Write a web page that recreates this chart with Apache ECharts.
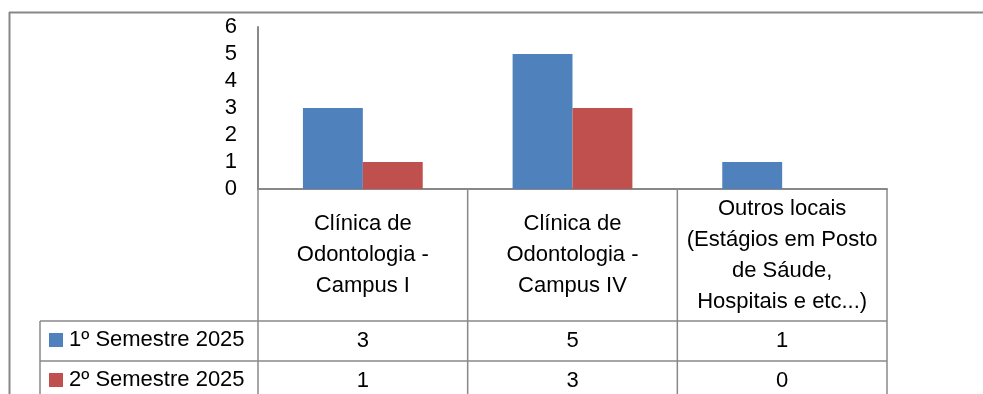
<!DOCTYPE html>
<html>
<head>
<meta charset="utf-8">
<script src="https://cdn.jsdelivr.net/npm/echarts@6/dist/echarts.min.js"></script>
<style>
  html, body { margin: 0; padding: 0; background: #fff; }
  #chart { width: 983px; height: 394px; }
</style>
</head>
<body>
<div id="chart"></div>
<script>
// Locais de estágio por semestre
const categories = [
  'Clínica de\nOdontologia -\nCampus I',
  'Clínica de\nOdontologia -\nCampus IV',
  'Outros locais\n(Estágios em Posto\nde Sáude,\nHospitais e etc...)'
];
const seriesNames = ['1º Semestre 2025', '2º Semestre 2025'];
const semestre1 = [3, 5, 1];
const semestre2 = [1, 3, 0];
const yTicks = [0, 1, 2, 3, 4, 5, 6];

const colors = ['#4F81BD', '#C0504D'];
const lineColor = '#888888';
const fontFamily = '"Liberation Sans", Arial, sans-serif';
const fontSize = 22;

// grid geometry (plot area + data table underneath)
const W = 983, H = 394;
const gridLeft = 258, gridRight = 96, gridTop = 27, gridBottom = 205;
const axisY = H - gridBottom;          // baseline of the plot
const plotRight = W - gridRight;
const labelRowBottom = 321;            // end of the category-name row
const rowHeight = 40;                  // height of each data row
const tableLeft = 40;

const chart = echarts.init(document.getElementById('chart'), null, { renderer: 'canvas' });

function valueAxis(values, margin) {
  return {
    type: 'category',
    gridIndex: 0,
    position: 'bottom',
    data: values.map(String),
    axisLine: { show: false },
    axisTick: { show: false },
    axisLabel: {
      margin: margin,
      verticalAlign: 'middle',
      color: '#000',
      fontFamily: fontFamily,
      fontSize: fontSize
    }
  };
}

// table rules
const cellW = (plotRight - gridLeft) / categories.length;
const lines = [];
function hline(x1, x2, y, w) {
  lines.push({ type: 'line', silent: true,
    shape: { x1: x1, y1: y, x2: x2, y2: y },
    style: { stroke: lineColor, lineWidth: w || 1.5 } });
}
function vline(x, y1, y2, w) {
  lines.push({ type: 'line', silent: true,
    shape: { x1: x, y1: y1, x2: x, y2: y2 },
    style: { stroke: lineColor, lineWidth: w || 1.5 } });
}
// outer chart frame
hline(9, W, 12.5, 2);
vline(9.5, 12, H, 2);
// table grid
hline(tableLeft, plotRight, labelRowBottom);
hline(tableLeft, plotRight, labelRowBottom + rowHeight);
vline(tableLeft, labelRowBottom, H);
vline(gridLeft, axisY, H);
for (let i = 1; i <= categories.length; i++) {
  vline(gridLeft + cellW * i, axisY, H);
}

const option = {
  animation: false,
  backgroundColor: '#fff',
  textStyle: { fontFamily: fontFamily },
  grid: { left: gridLeft, right: gridRight, top: gridTop, bottom: gridBottom, containLabel: false },
  legend: {
    orient: 'vertical',
    left: 49,
    top: 328,
    padding: 0,
    itemWidth: 14,
    itemHeight: 14,
    itemGap: 16,
    icon: 'rect',
    data: seriesNames,
    textStyle: { color: '#000', fontFamily: fontFamily, fontSize: fontSize, lineHeight: 24, padding: [0, 0, 0, 1] }
  },
  xAxis: [
    {
      type: 'category',
      data: categories,
      axisLine: { show: true, lineStyle: { color: lineColor, width: 2 } },
      axisTick: { show: false },
      axisLabel: {
        interval: 0,
        margin: 66,
        verticalAlign: 'middle',
        align: 'center',
        lineHeight: 31,
        color: '#000',
        fontFamily: fontFamily,
        fontSize: fontSize
      }
    },
    valueAxis(semestre1, labelRowBottom + rowHeight / 2 - axisY),
    valueAxis(semestre2, labelRowBottom + rowHeight * 1.5 - axisY)
  ],
  yAxis: {
    type: 'value',
    min: yTicks[0],
    max: yTicks[yTicks.length - 1],
    interval: 1,
    axisLine: { show: true, lineStyle: { color: lineColor, width: 2 } },
    axisTick: { show: false },
    splitLine: { show: false },
    axisLabel: {
      margin: 21,
      color: '#000',
      fontFamily: fontFamily,
      fontSize: fontSize
    }
  },
  series: [
    {
      name: seriesNames[0],
      type: 'bar',
      data: semestre1,
      barGap: '0%',
      barCategoryGap: '42.86%',
      itemStyle: { color: colors[0] }
    },
    {
      name: seriesNames[1],
      type: 'bar',
      data: semestre2,
      barGap: '0%',
      barCategoryGap: '42.86%',
      itemStyle: { color: colors[1] }
    }
  ],
  graphic: lines
};

chart.setOption(option);
</script>
</body>
</html>
